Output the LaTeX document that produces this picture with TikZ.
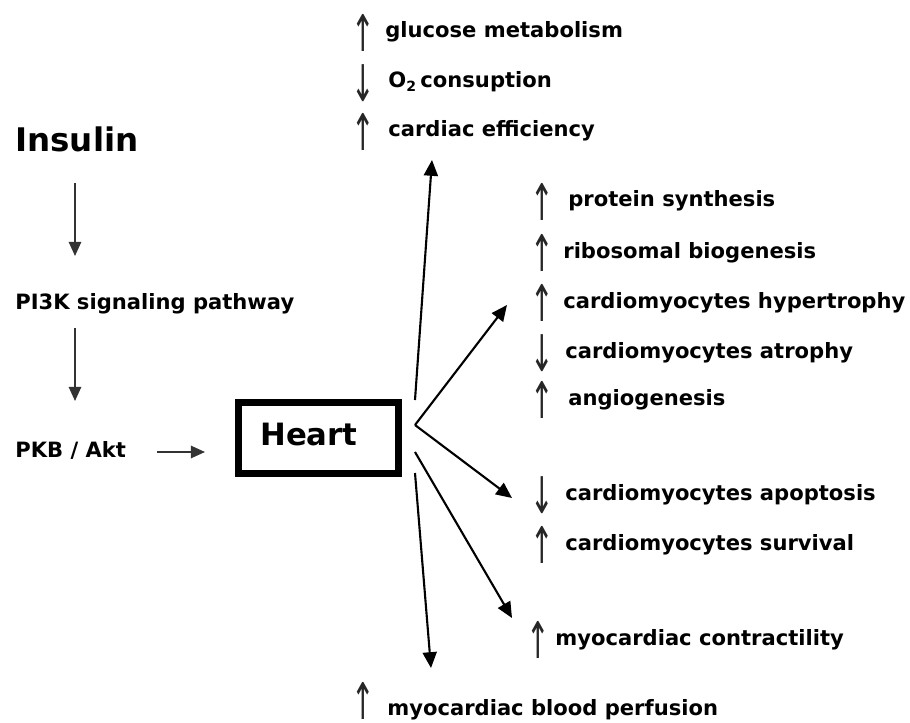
\documentclass[tikz,border=0pt]{standalone}
\usepackage{graphicx}
\usepackage{fontspec}
\setmainfont{DejaVu Sans}
\usetikzlibrary{arrows.meta,positioning}

% small up / down signs in front of the effects
\newcommand{\incr}{\scalebox{1}[1.8]{↑}}
\newcommand{\decr}{\scalebox{1}[1.8]{↓}}

\tikzset{
  lbl/.style={anchor=base west,inner sep=0pt,font=\bfseries\fontsize{12}{14}\selectfont},
  big/.style={anchor=base west,inner sep=0pt,font=\bfseries\fontsize{17.5}{20}\selectfont},
  sign/.style={anchor=base,inner sep=0pt,font=\mdseries\fontsize{16}{18}\selectfont,yshift=-7.6pt,black!85},
  arr/.style={-{Triangle[length=8pt,width=7pt]},line width=1pt,black!80},
  harr/.style={-{Triangle[length=9pt,width=8pt]},line width=1.2pt}
}

\begin{document}
\begin{tikzpicture}[x=0.02cm,y=-0.02cm]
\useasboundingbox (0,0) rectangle (910,723);

% pathway on the left
\node[big,font=\bfseries\fontsize{18.5}{21}\selectfont] (insulin) at (15,152) {Insulin};
\node[lbl] (pi3k) at (15,309) {PI3K signaling pathway};
\node[lbl] (pkb) at (15,457) {PKB / Akt};
\node[big] (heart) at (260,445) {Heart};
\draw[line width=4pt] (238.5,402.5) rectangle (398.5,473.5);

\coordinate (a1) at (75,183);
\coordinate (a2) at (75,256);
\coordinate (b1) at (75,328);
\coordinate (b2) at (75,401);
\coordinate (c1) at (157,452);
\coordinate (c2) at (205,452);
\draw[arr] (a1) -- (a2);
\draw[arr] (b1) -- (b2);
\draw[arr] (c1) -- (c2);

% effects on the right
\foreach \n/\sx/\tx/\y/\s/\t in {
  glu/363/385/38/\incr/glucose metabolism,
  oxy/363/388/88/\decr/O\textsubscript{2}\,consuption,
  eff/363/388/137/\incr/cardiac efficiency,
  pro/542/568/207/\incr/protein synthesis,
  rib/542/563/258/\incr/ribosomal biogenesis,
  hyp/542/563/308/\incr/cardiomyocytes hypertrophy,
  atr/542/565/358/\decr/cardiomyocytes atrophy,
  ang/542/568/405/\incr/angiogenesis,
  apo/542/565/500/\decr/cardiomyocytes apoptosis,
  sur/542/565/550/\incr/cardiomyocytes survival,
  con/538/555/645/\incr/myocardiac contractility} {
  \node[sign] (s\n) at (\sx,\y) {\s};
  \node[lbl] (t\n) at (\tx,\y) {\t};
}
\node[sign] (sper) at (363,706) {\incr};
\node[lbl] (tper) at (387,715) {myocardiac blood perfusion};

% arrows leaving the heart
\coordinate (h1) at (415,400);
\coordinate (h2) at (415,425);
\coordinate (h3) at (415,452);
\coordinate (h4) at (415,473);
\coordinate (e1) at (432,160);
\coordinate (e2) at (507,305);
\coordinate (e3) at (512,498);
\coordinate (e4) at (512,618);
\coordinate (e5) at (431,668);
\draw[harr] (h1) -- (e1);
\draw[harr] (h2) -- (e2);
\draw[harr] (h2) -- (e3);
\draw[harr] (h3) -- (e4);
\draw[harr] (h4) -- (e5);
\end{tikzpicture}
\end{document}
